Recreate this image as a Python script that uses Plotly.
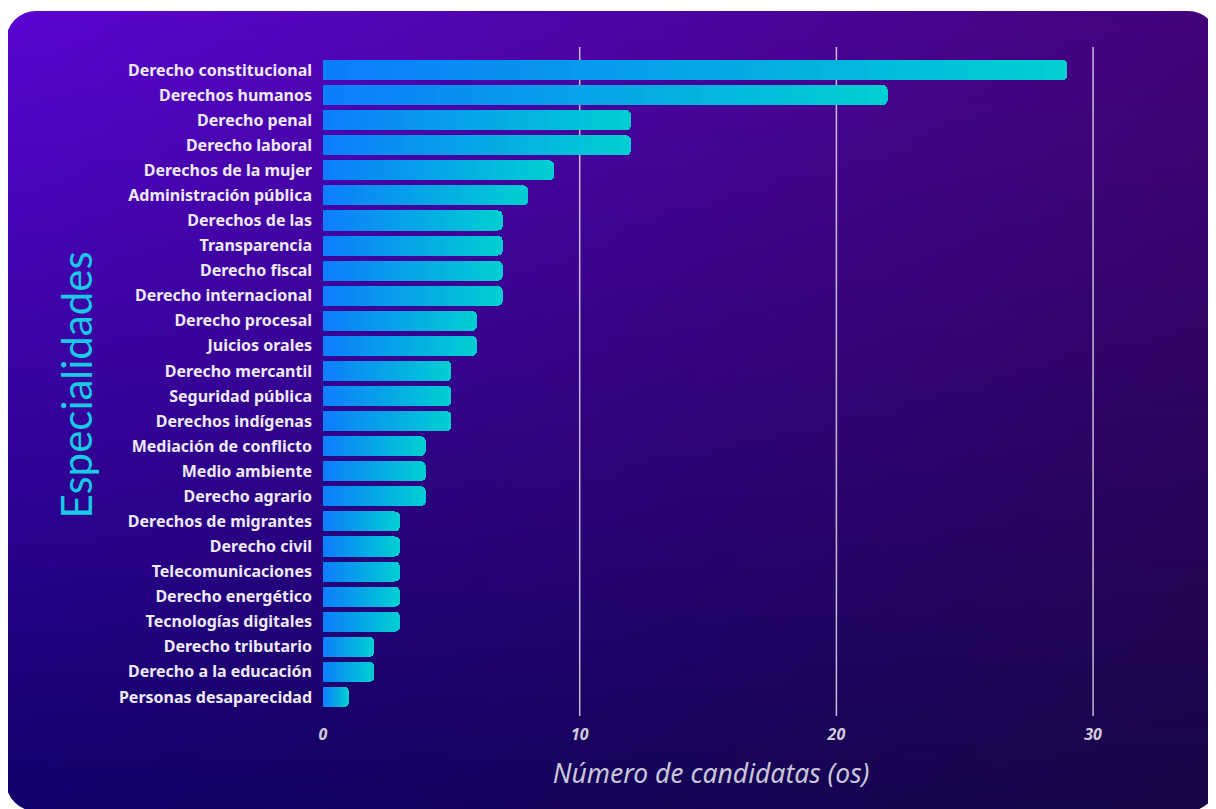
import base64
import plotly.graph_objects as go

# datos
especialidades = [
    "Derecho constitucional", "Derechos humanos", "Derecho penal", "Derecho laboral",
    "Derechos de la mujer", "Administración pública", "Derechos de las", "Transparencia",
    "Derecho fiscal", "Derecho internacional", "Derecho procesal", "Juicios orales",
    "Derecho mercantil", "Seguridad pública", "Derechos indígenas", "Mediación de conflicto",
    "Medio ambiente", "Derecho agrario", "Derechos de migrantes", "Derecho civil",
    "Telecomunicaciones", "Derecho energético", "Tecnologías digitales", "Derecho tributario",
    "Derecho a la educación", "Personas desaparecidad",
]
candidatas = [29, 22, 12, 12, 9, 8, 7, 7, 7, 7, 6, 6, 5, 5, 5, 4, 4, 4, 3, 3, 3, 3, 3, 2, 2, 1]
x_ticks = [0, 10, 20, 30]
grid_vals = [10, 20, 30]

# la página tiene 8px de margen, así que la figura es un poco menor
W, H = 1208, 801
L, R, T, B = 315, 117, 39, 93
pw, ph = W - L - R, H - T - B

# fondo: panel redondeado con degradado
svg = f"""<svg xmlns="http://www.w3.org/2000/svg" width="{W}" height="{H}" viewBox="0 0 {W} {H}">
<defs>
<linearGradient id="t" x1="0" y1="0" x2="1" y2="0">
<stop offset="0" stop-color="#5a06d2"/><stop offset="1" stop-color="#44047a"/></linearGradient>
<linearGradient id="b" x1="0" y1="0" x2="1" y2="0">
<stop offset="0" stop-color="#10006a"/><stop offset="1" stop-color="#170545"/></linearGradient>
<linearGradient id="v" x1="0" y1="0" x2="0" y2="1">
<stop offset="0" stop-color="#000"/><stop offset="1" stop-color="#fff"/></linearGradient>
<mask id="m"><rect x="0" y="0" width="{W}" height="{H}" fill="url(#v)"/></mask>
</defs>
<rect x="0" y="0" width="{W}" height="{H}" fill="#ffffff"/>
<rect x="-2" y="3" width="1212" height="800" rx="30" fill="url(#t)"/>
<rect x="-2" y="3" width="1212" height="800" rx="30" fill="url(#b)" mask="url(#m)"/>
</svg>"""
bg_src = "data:image/svg+xml;base64," + base64.b64encode(svg.encode()).decode()

# barras con degradado (segmentos apilados)
N_SEG = 30
c0 = (12, 126, 252)
c1 = (0, 206, 210)

fig = go.Figure()
for i in range(N_SEG):
    t = i / (N_SEG - 1)
    col = "rgb(%d,%d,%d)" % tuple(round(a + (b - a) * t) for a, b in zip(c0, c1))
    fig.add_trace(go.Bar(
        y=especialidades, x=[v / N_SEG for v in candidatas], orientation="h",
        marker=dict(color=col, line=dict(width=0), cornerradius=5),
        showlegend=False, hoverinfo="skip",
    ))

for g in grid_vals:
    fig.add_vline(x=g, line_color="rgba(225,220,235,0.85)", line_width=1.5, layer="below")

fig.add_annotation(
    text="Especialidades", xref="paper", yref="paper", x=(67 - L) / pw, y=0.5 - 4 / ph,
    textangle=-90, showarrow=False, xanchor="center", yanchor="middle",
    font=dict(family="Lato", size=42, color="#19c9e6"),
)

fig.update_layout(
    width=W, height=H,
    margin=dict(l=L, r=R, t=T, b=B, pad=0),
    barmode="stack", bargap=0.2,
    paper_bgcolor="white", plot_bgcolor="rgba(0,0,0,0)",
    images=[dict(source=bg_src, xref="paper", yref="paper",
                 x=-L / pw, y=1 + T / ph, sizex=W / pw, sizey=H / ph,
                 xanchor="left", yanchor="top", sizing="stretch", layer="below")],
    xaxis=dict(
        range=[0, 30.23], tickvals=x_ticks, showgrid=False, zeroline=False, showline=False,
        tickfont=dict(family="Noto Sans", size=16, color="#cfcbd9", weight="bold", style="italic"),
        ticklabelstandoff=7,
        title=dict(text="Número de candidatas (os)", standoff=20,
                   font=dict(family="Noto Sans", size=26.5, color="#cac6d8", style="italic")),
    ),
    yaxis=dict(
        categoryorder="array", categoryarray=especialidades,
        range=[len(especialidades) - 1 + 0.76, -0.92],
        showgrid=False, zeroline=False, showline=False,
        ticklabelstandoff=10,
        tickfont=dict(family="Noto Sans", size=16, color="#eeeaf6", weight="bold"),
    ),
)

fig.write_html("out.html")
